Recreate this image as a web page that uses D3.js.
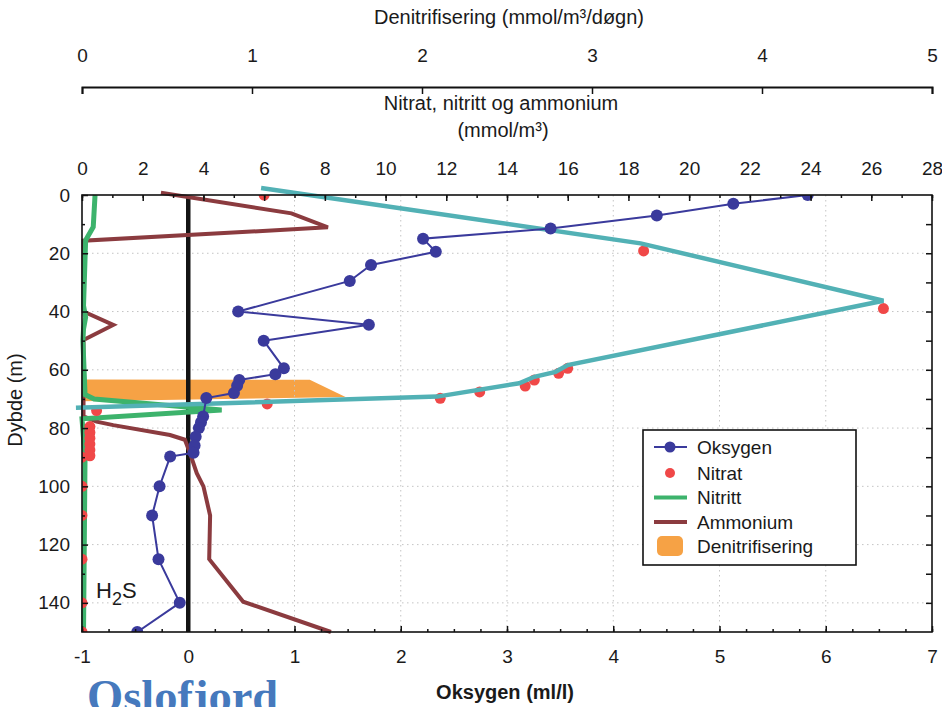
<!DOCTYPE html>
<html>
<head>
<meta charset="utf-8">
<script src="https://cdn.jsdelivr.net/npm/d3@7"></script>
<style>
  body { margin: 0; background: #fff; }
  svg { display: block; font-family: "Liberation Sans", Arial, Helvetica, sans-serif; }
</style>
</head>
<body>
<svg id="chart" width="942" height="707"></svg>
<script>
// ---- Profile data (depth in m) ----
// Oxygen, ml/l
const oxDepth = [0, 3, 7, 11.5, 15, 19.5, 24, 29.5, 40, 44.5, 50, 59.5, 61.5, 63.5, 65.5, 68, 69.7, 76, 78, 80, 83, 86, 88.5, 89.8, 100, 110, 125, 140, 150];
const oxValue = [5.83, 5.13, 4.41, 3.41, 2.21, 2.33, 1.72, 1.52, 0.47, 1.70, 0.71, 0.90, 0.82, 0.48, 0.46, 0.43, 0.17, 0.14, 0.12, 0.10, 0.07, 0.06, 0.05, -0.17, -0.27, -0.34, -0.28, -0.08, -0.48];

// Nitrate samples, mmol/m3
const nitDepth = [0, 19.2, 39, 59.5, 61.2, 63.5, 65.6, 67.6, 69.8, 71.7, 74, 79.5, 81.5, 83.5, 85.5, 87.5, 89.5, 90, 100, 110, 125, 140, 150];
const nitValue = [6.0, 18.5, 26.4, 16.0, 15.7, 14.9, 14.6, 13.1, 11.8, 6.1, 0.48, 0.26, 0.26, 0.26, 0.26, 0.26, 0.26, 0, 0, 0, 0, 0, 0];

// Nitrate profile line, mmol/m3
const nitLineDepth = [-2.4, 16.6, 36.3, 58.4, 60.7, 62.4, 64.6, 69.2, 73.0];
const nitLineValue = [5.9, 18.4, 26.4, 16.0, 15.6, 14.9, 14.4, 11.7, -0.2];

// Nitrite, mmol/m3
const nitriteDepth = [0, 11, 15.5, 38, 42, 46, 50, 68.5, 70, 73.8, 76.8, 90, 150];
const nitriteValue = [0.43, 0.37, 0.12, 0.05, 0.12, 0.05, 0.03, 0.1, 0.4, 4.6, 0.0, 0.1, 0.05];

// Ammonium, mmol/m3
const ammDepth = [-0.8, 6.3, 11.1, 15.7, 40, 44.6, 49.8, 76, 77.8, 79, 82.4, 84, 88.7, 95.5, 100, 110, 125, 139.6, 150];
const ammValue = [2.6, 6.9, 8.1, 0.05, 0.05, 1.03, 0.05, 0.05, 0.48, 1.03, 2.9, 3.39, 3.56, 3.78, 4.0, 4.22, 4.19, 5.31, 8.2];

// Denitrification rate, mmol/m3/day
const denDepth = [63.3, 63.4, 69.3, 70.8];
const denValue = [0, 1.34, 1.55, 0];

// Axis ticks
const oxTicks = [-1, 0, 1, 2, 3, 4, 5, 6, 7];
const nitTicks = [0, 2, 4, 6, 8, 10, 12, 14, 16, 18, 20, 22, 24, 26, 28];
const denTicks = [0, 1, 2, 3, 4, 5];
const depthTicks = [0, 20, 40, 60, 80, 100, 120, 140];

// Legend entries
const legendLabels = ["Oksygen", "Nitrat", "Nitritt", "Ammonium", "Denitrifisering"];

// ---- Styles ----
const C = {
  ox: "#3a3a9c",
  nit: "#f04848",
  nitLine: "#52b1b5",
  nitrite: "#3db36c",
  amm: "#8b3b3f",
  den: "#f6a245",
  grid: "#c4c4c4"
};

const svg = d3.select("#chart");
const P = { left: 82, right: 932, top: 195, bottom: 632 };

const xOx = d3.scaleLinear().domain([-1, 7]).range([P.left, P.right]);
const xNit = d3.scaleLinear().domain([0, 28]).range([P.left, P.right]);
const xDen = d3.scaleLinear().domain([0, 5]).range([P.left, P.right]);
const y = d3.scaleLinear().domain([0, 150]).range([P.top, P.bottom]);

svg.append("rect").attr("width", 942).attr("height", 707).attr("fill", "#fff");

svg.append("clipPath").attr("id", "plotClip")
  .append("rect").attr("x", P.left).attr("y", P.top)
  .attr("width", P.right - P.left).attr("height", P.bottom - P.top);

// Denitrification band
const denData = denDepth.map((d, i) => ({ d, v: denValue[i] }));
svg.append("path")
  .datum(denData)
  .attr("fill", C.den)
  .attr("d", d3.area().y(p => y(p.d)).x0(xDen(0)).x1(p => xDen(p.v)));

// Dotted grid
const grid = svg.append("g").attr("stroke", C.grid).attr("stroke-width", 1).attr("stroke-dasharray", "1.5,3.5");
grid.selectAll("line.v").data(oxTicks.filter(t => t > 0 && t < 7)).join("line")
  .attr("x1", d => xOx(d)).attr("x2", d => xOx(d)).attr("y1", P.top).attr("y2", P.bottom);
grid.selectAll("line.h").data(depthTicks.filter(t => t > 0)).join("line")
  .attr("x1", P.left).attr("x2", P.right).attr("y1", d => y(d)).attr("y2", d => y(d));

// Zero-oxygen boundary
svg.append("line")
  .attr("x1", xOx(0)).attr("x2", xOx(0)).attr("y1", y(1)).attr("y2", y(150))
  .attr("stroke", "#141414").attr("stroke-width", 4.5);

const line = (xs, vals, depths) => d3.line()(depths.map((d, i) => [xs(vals[i]), y(d)]));

// Ammonium
svg.append("path").attr("d", line(xNit, ammValue, ammDepth))
  .attr("fill", "none").attr("stroke", C.amm).attr("stroke-width", 4).attr("stroke-linejoin", "miter");

// Nitrite
svg.append("path").attr("d", line(xNit, nitriteValue, nitriteDepth))
  .attr("fill", "none").attr("stroke", C.nitrite).attr("stroke-width", 5).attr("stroke-linejoin", "miter");

// Nitrate samples
svg.append("g").attr("clip-path", "url(#plotClip)")
  .selectAll("circle").data(nitDepth).join("circle")
  .attr("cx", (d, i) => xNit(nitValue[i])).attr("cy", d => y(d)).attr("r", 5.5)
  .attr("fill", C.nit);

// Nitrate profile line
svg.append("path").attr("d", line(xNit, nitLineValue, nitLineDepth))
  .attr("fill", "none").attr("stroke", C.nitLine).attr("stroke-width", 4.5);

// Oxygen
const oxG = svg.append("g").attr("clip-path", "url(#plotClip)");
oxG.append("path").attr("d", line(xOx, oxValue, oxDepth))
  .attr("fill", "none").attr("stroke", C.ox).attr("stroke-width", 2);
oxG.selectAll("circle").data(oxDepth).join("circle")
  .attr("cx", (d, i) => xOx(oxValue[i])).attr("cy", d => y(d)).attr("r", 6)
  .attr("fill", C.ox);

// Frame
svg.append("rect").attr("x", P.left).attr("y", P.top)
  .attr("width", P.right - P.left).attr("height", P.bottom - P.top)
  .attr("fill", "none").attr("stroke", "#111").attr("stroke-width", 1.6);

// ---- Axes ----
const fs = 19;
const ft = 20;
function styleAxis(g) {
  g.select(".domain").remove();
  g.selectAll(".tick line").attr("stroke", "#111").attr("stroke-width", 1.5);
  g.selectAll(".tick text").attr("font-size", fs).attr("fill", "#1a1a1a")
    .attr("font-family", "'Liberation Sans', Arial, sans-serif");
}
const fmt = d => String(d);

// Oxygen axis (bottom)
svg.append("g").attr("transform", `translate(0,${P.bottom})`)
  .call(d3.axisBottom(xOx).tickValues(d3.range(-1, 7.001, 0.25)).tickSize(-3).tickFormat(""))
  .call(styleAxis);
svg.append("g").attr("transform", `translate(0,${P.bottom})`)
  .call(d3.axisBottom(xOx).tickValues(oxTicks).tickSize(-6).tickPadding(18).tickFormat(fmt))
  .call(styleAxis);

// Nitrogen axis (top of plot)
svg.append("g").attr("transform", `translate(0,${P.top})`)
  .call(d3.axisTop(xNit).tickValues(d3.range(0, 29, 1)).tickSize(-3).tickFormat(""))
  .call(styleAxis);
svg.append("g").attr("transform", `translate(0,${P.top})`)
  .call(d3.axisTop(xNit).tickValues(nitTicks).tickSize(-6).tickPadding(20).tickFormat(fmt))
  .call(styleAxis);

// Depth axis (left) and mirrored ticks (right)
svg.append("g").attr("transform", `translate(${P.left},0)`)
  .call(d3.axisLeft(y).tickValues(d3.range(10, 150, 20)).tickSize(-3).tickFormat(""))
  .call(styleAxis);
svg.append("g").attr("transform", `translate(${P.left},0)`)
  .call(d3.axisLeft(y).tickValues(depthTicks).tickSize(-6).tickPadding(12).tickFormat(fmt))
  .call(styleAxis);
svg.append("g").attr("transform", `translate(${P.right},0)`)
  .call(d3.axisRight(y).tickValues(d3.range(10, 150, 10)).tickSize(-6).tickFormat(""))
  .call(styleAxis);

// Denitrification axis (separate, above)
const denAxis = svg.append("g").attr("transform", "translate(0,87)")
  .call(d3.axisTop(xDen).tickValues(denTicks).tickSize(-7).tickSizeOuter(-7).tickPadding(25).tickFormat(fmt));
denAxis.select(".domain").attr("stroke", "#111").attr("stroke-width", 2);
denAxis.selectAll(".tick line").attr("stroke", "#111").attr("stroke-width", 1.5);
denAxis.selectAll(".tick text").attr("font-size", fs).attr("fill", "#1a1a1a");

// ---- Titles ----
const txt = (x, yy, s, opts = {}) => {
  const t = svg.append("text").attr("x", x).attr("y", yy)
    .attr("text-anchor", opts.anchor || "middle")
    .attr("font-size", opts.size || ft)
    .attr("font-weight", opts.weight || "normal")
    .attr("fill", opts.fill || "#1a1a1a");
  t.text(s);
  return t;
};
txt(509, 24, "Denitrifisering (mmol/m³/døgn)");
txt(501, 110, "Nitrat, nitritt og ammonium");
txt(503, 137, "(mmol/m³)");
txt(505, 699, "Oksygen (ml/l)", { weight: "bold" });

svg.append("text")
  .attr("transform", "translate(22,400) rotate(-90)")
  .attr("text-anchor", "middle").attr("font-size", ft).attr("fill", "#1a1a1a")
  .text("Dybde (m)");

// H2S marker
const h2s = svg.append("text").attr("x", 96).attr("y", 598).attr("font-size", 22).attr("fill", "#1a1a1a");
h2s.append("tspan").text("H");
h2s.append("tspan").attr("dy", 7).attr("font-size", 18).text("2");
h2s.append("tspan").attr("dy", -7).text("S");

// Site name
svg.append("text").attr("x", 87).attr("y", 712)
  .attr("font-family", "'Liberation Serif', 'Times New Roman', serif")
  .attr("font-weight", "bold").attr("font-size", 46.5).attr("fill", "#4679bd")
  .text("Oslofjord");

// ---- Legend ----
const L = { x: 643, y: 430, w: 213, h: 135 };
const lg = svg.append("g");
lg.append("rect").attr("x", L.x).attr("y", L.y).attr("width", L.w).attr("height", L.h)
  .attr("fill", "#fff").attr("stroke", "#111").attr("stroke-width", 1.6);
const rowY = [447, 473, 497.5, 522, 546];
const sx = 670;
lg.append("line").attr("x1", 654).attr("x2", 687).attr("y1", rowY[0]).attr("y2", rowY[0])
  .attr("stroke", C.ox).attr("stroke-width", 2);
lg.append("circle").attr("cx", sx).attr("cy", rowY[0]).attr("r", 5.5).attr("fill", C.ox);
lg.append("circle").attr("cx", sx).attr("cy", rowY[1]).attr("r", 5).attr("fill", C.nit);
lg.append("line").attr("x1", 654).attr("x2", 687).attr("y1", rowY[2]).attr("y2", rowY[2])
  .attr("stroke", C.nitrite).attr("stroke-width", 4);
lg.append("line").attr("x1", 654).attr("x2", 687).attr("y1", rowY[3]).attr("y2", rowY[3])
  .attr("stroke", C.amm).attr("stroke-width", 4);
lg.append("rect").attr("x", 657).attr("y", rowY[4] - 10).attr("width", 26).attr("height", 20)
  .attr("rx", 5).attr("fill", C.den);
lg.selectAll("text.lab").data(legendLabels).join("text")
  .attr("x", 697).attr("y", (d, i) => rowY[i]).attr("dy", "0.36em")
  .attr("font-size", fs).attr("fill", "#1a1a1a").text(d => d);
</script>
</body>
</html>
